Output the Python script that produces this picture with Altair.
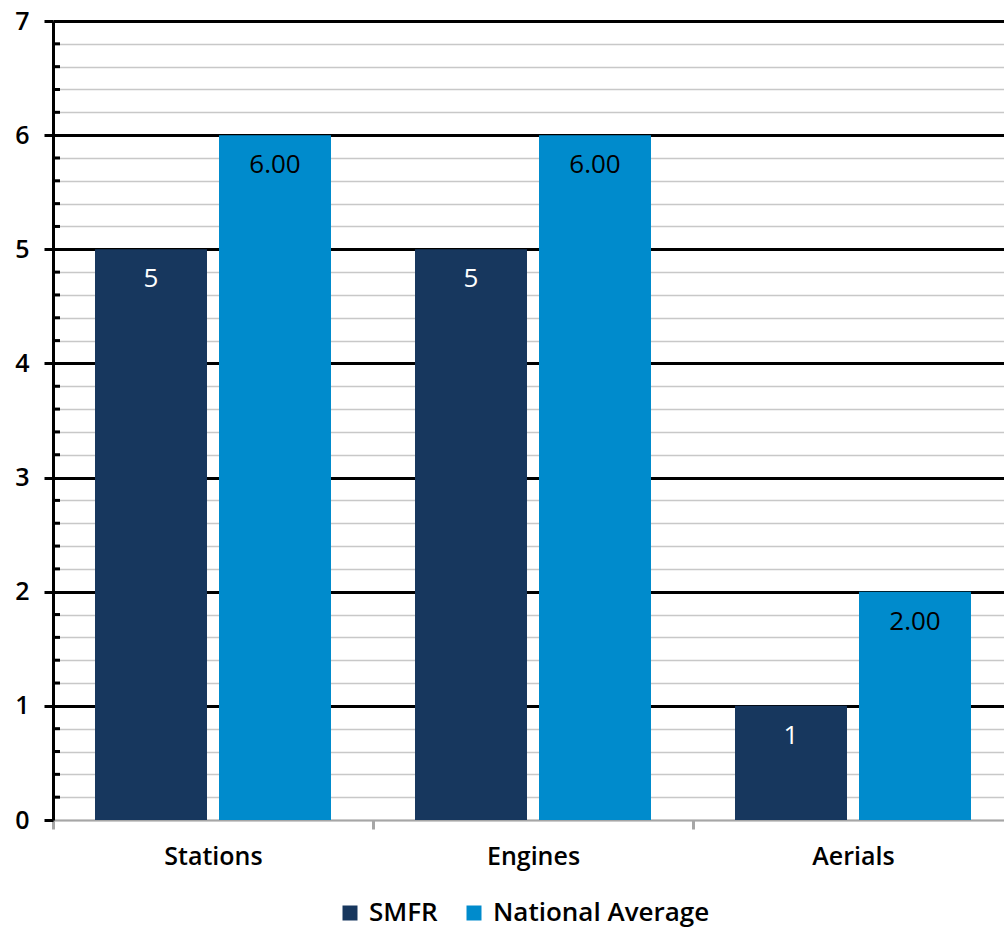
import altair as alt
import pandas as pd

categories = ["Stations", "Engines", "Aerials"]
series = ["SMFR", "National Average"]
smfr = [5, 5, 1]
national = [6.00, 6.00, 2.00]
colors = ["#17375e", "#008bcc"]

rows = []
for i, c in enumerate(categories):
    rows.append({"cat": c, "series": "SMFR", "value": smfr[i], "label": f"{smfr[i]:d}", "lc": "white"})
    rows.append({"cat": c, "series": "National Average", "value": national[i], "label": f"{national[i]:.2f}", "lc": "black"})
df = pd.DataFrame(rows)

tick_values = [round(k * 0.2, 1) for k in range(36)]
minor_values = [v for v in tick_values if abs(v - round(v)) > 1e-6]
minor_df = pd.DataFrame({"v": minor_values})

FONT = "Open Sans"
WEIGHT = 600
SIZE = 25
is_major = "abs(datum.value - round(datum.value)) < 0.001"
is_black = f"datum.value > 0.01 && {is_major}"

x = alt.X("cat:N", sort=categories, title=None,
          scale=alt.Scale(range=[0, 960], paddingInner=0, paddingOuter=0),
          axis=alt.Axis(labelAngle=0, labelFont=FONT, labelFontSize=SIZE, labelFontWeight=WEIGHT,
                        labelColor="black", labelPadding=15, tickBand="extent",
                        tickColor="#a6a6a6", tickWidth=3, tickSize=9,
                        domainColor="#a6a6a6", domainWidth=2, grid=False))
xo = alt.XOffset("series:N", sort=series,
                 scale=alt.Scale(paddingInner=0.0968, paddingOuter=0.3387))
y = alt.Y("value:Q", title=None,
          scale=alt.Scale(domain=[0, 7], nice=False),
          axis=alt.Axis(values=tick_values + [7.0], tickCount=100,
                        labelExpr=f"{is_major} ? format(datum.value, 'd') : ''",
                        labelOverlap=False,
                        labelFont=FONT, labelFontSize=SIZE, labelFontWeight=WEIGHT,
                        labelColor="black", labelPadding=15,
                        tickSize={"condition": {"test": is_major, "value": 9}, "value": 0},
                        tickColor="black", tickWidth=3,
                        domainColor="black", domainWidth=3,
                        grid=True,
                        gridColor={"condition": {"test": is_black, "value": "black"}, "value": "#c8c8c8"},
                        gridWidth={"condition": {"test": is_black, "value": 3}, "value": 1.5}))

bars = alt.Chart(df).mark_bar().encode(
    x=x, xOffset=xo, y=y,
    color=alt.Color("series:N", sort=series,
                    scale=alt.Scale(domain=series, range=colors),
                    legend=alt.Legend(title=None, orient="none", legendX=284, legendY=879,
                                      direction="horizontal", padding=0,
                                      labelFont=FONT, labelFontSize=26, labelFontWeight=WEIGHT,
                                      labelColor="black", labelLimit=400,
                                      symbolType="square", symbolSize=225, symbolStrokeWidth=0,
                                      columnPadding=23, labelOffset=6)),
)

labels = alt.Chart(df).mark_text(font=FONT, fontSize=26, fontWeight=400,
                                 baseline="middle", dy=30).encode(
    x=alt.X("cat:N", sort=categories), xOffset=xo, y=alt.Y("value:Q"),
    text="label:N",
    color=alt.Color("lc:N", scale=None),
)

minor_ticks = alt.Chart(minor_df).mark_rule(color="black", strokeWidth=3).encode(
    x=alt.value(0), x2=alt.value(7), y=alt.Y("v:Q"),
)

chart = alt.layer(bars, labels, minor_ticks).properties(
    width=951, height=799,
    autosize=alt.AutoSizeParams(type="none"),
    padding={"left": 53, "top": 21, "right": 0, "bottom": 108},
).configure_view(stroke=None)

chart.save("out.html", embed_options={"renderer": "svg", "actions": False})
